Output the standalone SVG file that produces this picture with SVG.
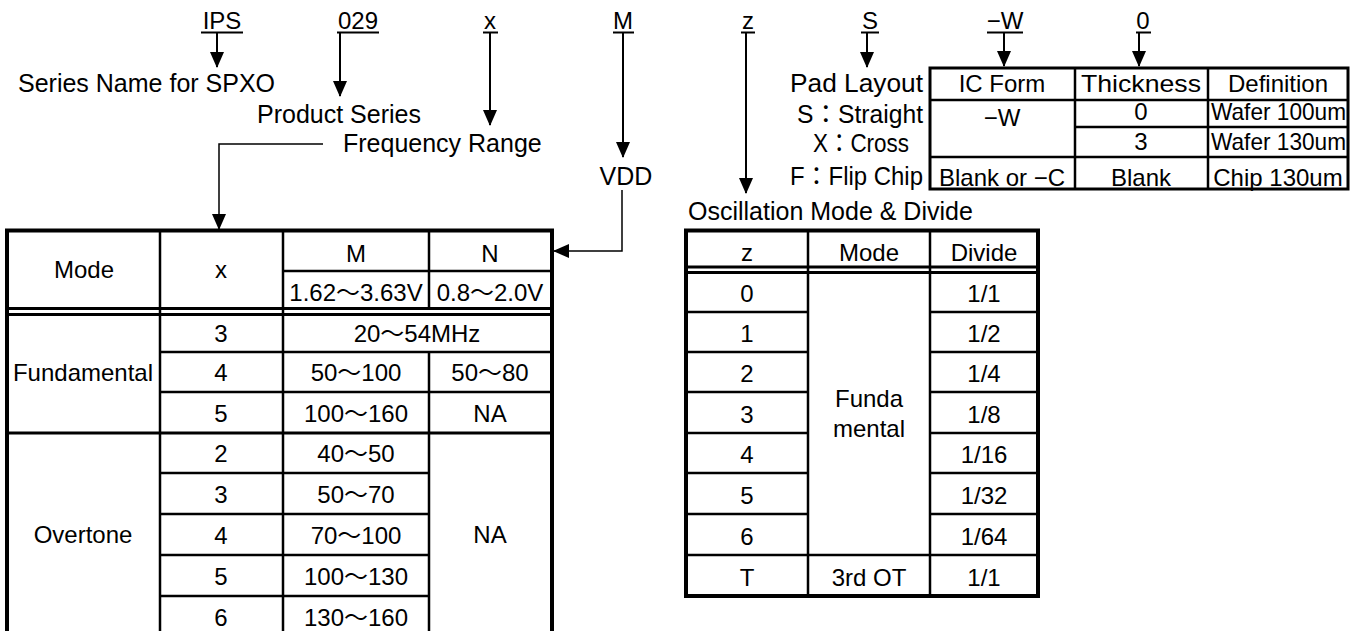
<svg xmlns="http://www.w3.org/2000/svg" width="1358" height="631" viewBox="0 0 1358 631">
<defs>
<style>
text{font-family:"Liberation Sans","Noto Sans CJK JP",sans-serif;font-size:24px;fill:#000}
.lb{font-size:25px}
.m{text-anchor:middle}
.ob{fill:none;stroke:#000;stroke-width:4}
.ot{fill:none;stroke:#000;stroke-width:3}
.tl{stroke:#000;stroke-width:2.5;fill:none}
.ul{stroke:#000;stroke-width:2}
.ar{stroke:#000;stroke-width:2;fill:none;marker-end:url(#ah)}
.cn{stroke:#000;stroke-width:1.5;fill:none;marker-end:url(#ah)}
</style>
<marker id="ah" viewBox="0 0 16 14" refX="15" refY="7" markerWidth="16" markerHeight="14" markerUnits="userSpaceOnUse" orient="auto"><path d="M0,0L16,7L0,14z"/></marker>
</defs>
<rect width="1358" height="631" fill="#fff"/>

<g id="code-IPS"><text class="m" x="222" y="29">IPS</text><line class="ul" x1="201" y1="32.5" x2="243" y2="32.5"/></g>
<g id="code-029"><text class="m" x="358" y="29">029</text><line class="ul" x1="337" y1="32.5" x2="379" y2="32.5"/></g>
<g id="code-x"><text class="m" x="490" y="29">x</text><line class="ul" x1="483" y1="32.5" x2="498" y2="32.5"/></g>
<g id="code-M"><text class="m" x="623" y="29">M</text><line class="ul" x1="613" y1="32.5" x2="634" y2="32.5"/></g>
<g id="code-z"><text class="m" x="748" y="29">z</text><line class="ul" x1="741" y1="32.5" x2="755" y2="32.5"/></g>
<g id="code-S"><text class="m" x="870" y="29">S</text><line class="ul" x1="861" y1="32.5" x2="879" y2="32.5"/></g>
<g id="code-W"><text class="m" x="1005" y="29">−W</text><line class="ul" x1="987" y1="32.5" x2="1023" y2="32.5"/></g>
<g id="code-0"><text class="m" x="1143" y="29">0</text><line class="ul" x1="1136" y1="32.5" x2="1151" y2="32.5"/></g>

<g id="label-series"><text class="lb" x="18" y="92">Series Name for SPXO</text></g>
<g id="label-product"><text class="lb" x="257" y="123">Product Series</text></g>
<g id="label-freq"><text class="lb" x="343" y="152">Frequency Range</text></g>
<g id="label-vdd"><text class="m lb" x="626" y="185">VDD</text></g>
<g id="label-pad">
<text class="lb" x="790" y="92" textLength="133" lengthAdjust="spacingAndGlyphs">Pad Layout</text>
<text class="lb" x="797" y="123" textLength="126" lengthAdjust="spacingAndGlyphs">S：Straight</text>
<text class="lb" x="813" y="152" textLength="96" lengthAdjust="spacingAndGlyphs">X：Cross</text>
<text class="lb" x="790" y="185" textLength="133" lengthAdjust="spacingAndGlyphs">F：Flip Chip</text>
</g>

<g id="table-icform">
<rect class="ot" x="930" y="68" width="418" height="121"/>
<line class="tl" x1="1075" y1="68" x2="1075" y2="189"/>
<line class="tl" x1="1208" y1="68" x2="1208" y2="189"/>
<line class="tl" x1="930" y1="100" x2="1348" y2="100"/>
<line class="tl" x1="1075" y1="127" x2="1348" y2="127"/>
<line class="tl" x1="930" y1="157" x2="1348" y2="157"/>
<text class="m" x="1002" y="92">IC Form</text>
<text class="m" x="1141" y="92" textLength="120" lengthAdjust="spacingAndGlyphs">Thickness</text>
<text class="m" x="1278" y="92">Definition</text>
<text class="m" x="1002" y="126">−W</text>
<text class="m" x="1141" y="120">0</text>
<text class="m" x="1141" y="150">3</text>
<text x="1211" y="120" textLength="135" lengthAdjust="spacingAndGlyphs">Wafer 100um</text>
<text x="1211" y="150" textLength="135" lengthAdjust="spacingAndGlyphs">Wafer 130um</text>
<text class="m" x="1002" y="186">Blank or −C</text>
<text class="m" x="1141" y="186">Blank</text>
<text class="m" x="1278" y="186">Chip 130um</text>
</g>

<g id="table-freq">
<rect class="ob" x="7" y="230.5" width="545" height="410"/>
<line class="tl" x1="160" y1="230" x2="160" y2="640"/>
<line class="tl" x1="283" y1="230" x2="283" y2="640"/>
<line class="tl" x1="429" y1="230" x2="429" y2="309"/>
<line class="tl" x1="429" y1="352" x2="429" y2="640"/>
<line class="tl" x1="283" y1="271" x2="552" y2="271"/>
<line class="ot" x1="7" y1="308.5" x2="552" y2="308.5"/>
<line class="ot" x1="7" y1="314.5" x2="552" y2="314.5"/>
<line class="tl" x1="160" y1="352" x2="552" y2="352"/>
<line class="tl" x1="160" y1="392" x2="552" y2="392"/>
<line class="ot" x1="7" y1="433" x2="552" y2="433"/>
<line class="tl" x1="160" y1="473" x2="429" y2="473"/>
<line class="tl" x1="160" y1="514" x2="429" y2="514"/>
<line class="tl" x1="160" y1="555" x2="429" y2="555"/>
<line class="tl" x1="160" y1="596" x2="429" y2="596"/>
<text class="m" x="84" y="278">Mode</text>
<text class="m" x="221" y="278">x</text>
<text class="m" x="356" y="262">M</text>
<text class="m" x="490" y="262">N</text>
<text class="m" x="356" y="301">1.62～3.63V</text>
<text class="m" x="490" y="301">0.8～2.0V</text>
<text class="m" x="83" y="381">Fundamental</text>
<text class="m" x="221" y="342">3</text>
<text class="m" x="417" y="342">20～54MHz</text>
<text class="m" x="221" y="381">4</text>
<text class="m" x="356" y="381">50～100</text>
<text class="m" x="490" y="381">50～80</text>
<text class="m" x="221" y="422">5</text>
<text class="m" x="356" y="422">100～160</text>
<text class="m" x="490" y="422">NA</text>
<text class="m" x="83" y="543">Overtone</text>
<text class="m" x="490" y="543">NA</text>
<text class="m" x="221" y="462">2</text>
<text class="m" x="356" y="462">40～50</text>
<text class="m" x="221" y="503">3</text>
<text class="m" x="356" y="503">50～70</text>
<text class="m" x="221" y="544">4</text>
<text class="m" x="356" y="544">70～100</text>
<text class="m" x="221" y="585">5</text>
<text class="m" x="356" y="585">100～130</text>
<text class="m" x="221" y="626">6</text>
<text class="m" x="356" y="626">130～160</text>
</g>

<g id="label-osc"><text class="lb" x="688" y="220">Oscillation Mode &amp; Divide</text></g>

<g id="table-osc">
<rect class="ob" x="686" y="230.5" width="352" height="365.5"/>
<line class="tl" x1="808" y1="230" x2="808" y2="596"/>
<line class="tl" x1="930" y1="230" x2="930" y2="596"/>
<line class="ot" x1="686" y1="267" x2="1038" y2="267"/>
<line class="ot" x1="686" y1="272.5" x2="1038" y2="272.5"/>
<path class="tl" d="M686,312H808M930,312H1038M686,352H808M930,352H1038M686,392H808M930,392H1038M686,433H808M930,433H1038M686,473H808M930,473H1038M686,514H808M930,514H1038"/>
<line class="tl" x1="686" y1="555" x2="1038" y2="555"/>
<text class="m" x="747" y="261">z</text>
<text class="m" x="869" y="261">Mode</text>
<text class="m" x="984" y="261">Divide</text>
<text class="m" x="747" y="302">0</text>
<text class="m" x="984" y="302">1/1</text>
<text class="m" x="747" y="342">1</text>
<text class="m" x="984" y="342">1/2</text>
<text class="m" x="747" y="382">2</text>
<text class="m" x="984" y="382">1/4</text>
<text class="m" x="747" y="423">3</text>
<text class="m" x="984" y="423">1/8</text>
<text class="m" x="747" y="463">4</text>
<text class="m" x="984" y="463">1/16</text>
<text class="m" x="747" y="504">5</text>
<text class="m" x="984" y="504">1/32</text>
<text class="m" x="747" y="545">6</text>
<text class="m" x="984" y="545">1/64</text>
<text class="m" x="747" y="586">T</text>
<text class="m" x="869" y="586">3rd OT</text>
<text class="m" x="984" y="586">1/1</text>
<text class="m" x="869" y="407">Funda</text>
<text class="m" x="869" y="437">mental</text>
</g>

<g id="connectors">
<path class="ar" d="M217,33V67"/>
<path class="ar" d="M340,33V96"/>
<path class="ar" d="M490,33V125"/>
<path class="ar" d="M623,33V157"/>
<path class="ar" d="M746,33V193"/>
<path class="ar" d="M867,33V67"/>
<path class="ar" d="M1004,33V66"/>
<path class="ar" d="M1139,33V66"/>
<path class="cn" d="M323,144H219V229"/>
<path class="cn" d="M622,190V251H554"/>
</g>
</svg>
